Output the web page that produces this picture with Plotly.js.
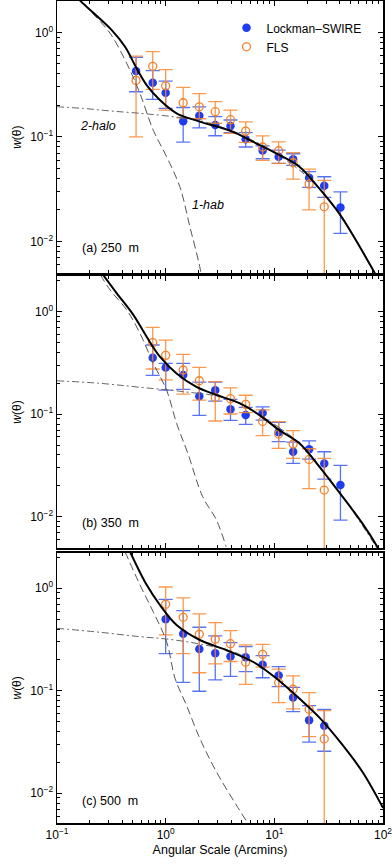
<!DOCTYPE html>
<html>
<head>
<meta charset="utf-8">
<script src="https://cdn.plot.ly/plotly-3.0.1.min.js"></script>
<style>
  html, body { margin: 0; padding: 0; background: #fff; }
  #plot { width: 392px; height: 864px; }
</style>
</head>
<body>
<div id="plot"></div>
<script>
// angular bins (arcmin)
const thetaA = [0.534, 0.76, 1.0, 1.45, 2.04, 2.86, 3.95, 5.45, 7.8, 10.96, 14.9, 20.9, 28.8, 40.6];
const thetaB = [0.76, 1.0, 1.45, 2.04, 2.86, 3.95, 5.45, 7.8, 10.96, 14.9, 20.9, 28.8, 40.6];
const thetaC = [1.0, 1.45, 2.04, 2.86, 3.95, 5.45, 7.8, 10.96, 14.9, 20.9, 28.8];

// (a) 250 - Lockman-SWIRE
const wA_lock   = [0.426, 0.33, 0.264, 0.141, 0.159, 0.13, 0.127, 0.095, 0.074, 0.0645, 0.061, 0.0406, 0.034, 0.0211];
const wA_lockHi = [0.576, 0.43, 0.342, 0.191, 0.194, 0.156, 0.145, 0.11, 0.082, 0.0748, 0.0689, 0.0464, 0.0415, 0.0298];
const wA_lockLo = [0.27, 0.228, 0.187, 0.089, 0.122, 0.1025, 0.11, 0.08, 0.0617, 0.0557, 0.0533, 0.0329, 0.0264, 0.0119];
// (a) 250 - FLS
const wA_fls   = [0.347, 0.473, 0.308, 0.212, 0.194, 0.174, 0.146, 0.1135, 0.08, 0.0736, 0.0565, 0.0353, 0.0214];
const wA_flsHi = [0.593, 0.653, 0.439, 0.297, 0.259, 0.217, 0.18, 0.139, 0.102, 0.0897, 0.0705, 0.0492, 0.0384];
const wA_flsLo = [0.1, 0.285, 0.18, 0.152, 0.149, 0.135, 0.108, 0.0886, 0.0596, 0.0557, 0.0394, 0.02, 0.001];

// (b) 350
const wB_lock   = [0.356, 0.286, 0.241, 0.150, 0.171, 0.112, 0.098, 0.1026, 0.0665, 0.043, 0.0454, 0.0331, 0.0204];
const wB_lockHi = [0.473, 0.313, 0.313, 0.206, 0.206, 0.1395, 0.1166, 0.118, 0.0832, 0.0535, 0.055, 0.043, 0.0317];
const wB_lockLo = [0.239, 0.172, 0.175, 0.0975, 0.134, 0.0871, 0.0796, 0.0877, 0.054, 0.0331, 0.0365, 0.0233, 0.00927];
const wB_fls   = [0.499, 0.375, 0.270, 0.212, 0.145, 0.1417, 0.1247, 0.0851, 0.064, 0.0512, 0.0362, 0.0182];
const wB_flsHi = [0.703, 0.529, 0.384, 0.286, 0.208, 0.181, 0.153, 0.11, 0.0845, 0.069, 0.046, 0.037];
const wB_flsLo = [0.276, 0.216, 0.157, 0.137, 0.0858, 0.1004, 0.1035, 0.0617, 0.0464, 0.037, 0.0188, 0.001];

// (c) 500
const wC_lock   = [0.50, 0.36, 0.256, 0.232, 0.216, 0.212, 0.179, 0.141, 0.086, 0.0515, 0.0457];
const wC_lockHi = [0.78, 0.605, 0.417, 0.343, 0.295, 0.27, 0.22, 0.172, 0.108, 0.0716, 0.066];
const wC_lockLo = [0.23, 0.121, 0.099, 0.1275, 0.138, 0.154, 0.134, 0.11, 0.0626, 0.0315, 0.0257];
const wC_fls   = [0.698, 0.521, 0.356, 0.318, 0.288, 0.19, 0.227, 0.12, 0.1035, 0.066, 0.0339];
const wC_flsHi = [1.03, 0.805, 0.562, 0.463, 0.386, 0.28, 0.284, 0.163, 0.1395, 0.096, 0.064];
const wC_flsLo = [0.351, 0.23, 0.150, 0.183, 0.193, 0.1157, 0.17, 0.0767, 0.0665, 0.0357, 0.001];

// halo model curves
const totA_x = [0.13, 0.164, 0.319, 0.423, 0.541, 0.668, 0.885, 1.26, 2.06, 4.16, 6.34, 10.4, 17, 25.9, 39.5, 56.2, 82.6, 100];
const totA_y = [2.6, 2.0, 1.05, 0.728, 0.452, 0.313, 0.225, 0.168, 0.14, 0.112, 0.0898, 0.0695, 0.0518, 0.0321, 0.0185, 0.0103, 0.00512, 0.0036];
const oneA_x = [0.15, 0.2, 0.308, 0.438, 0.58, 0.768, 1.02, 1.35, 1.67, 2.06, 2.3];
const oneA_y = [2.3, 1.63, 0.98, 0.505, 0.26, 0.116, 0.0645, 0.0333, 0.0138, 0.0057, 0.003];
const twoA_x = [0.1, 0.175, 0.308, 0.58, 1.17, 2.06, 4.16, 10.4, 25.9, 56.2, 100];
const twoA_y = [0.194, 0.187, 0.177, 0.168, 0.156, 0.143, 0.112, 0.0695, 0.0321, 0.0103, 0.0036];

const totB_x = [0.267, 0.355, 0.504, 0.668, 0.885, 1.26, 1.92, 2.93, 4.79, 7.3, 11.1, 17, 25.9, 42.4, 64.6, 88.6, 100];
const totB_y = [2.27, 1.51, 0.93, 0.57, 0.364, 0.25, 0.185, 0.154, 0.128, 0.098, 0.070, 0.052, 0.0308, 0.0157, 0.0086, 0.0051, 0.004];
const oneB_x = [0.25, 0.308, 0.438, 0.58, 0.768, 1.02, 1.26, 1.6, 2.19, 2.93, 3.6];
const oneB_y = [2.3, 1.63, 1.04, 0.615, 0.314, 0.172, 0.0815, 0.0415, 0.0157, 0.0093, 0.0051];
const twoB_x = [0.1, 0.25, 0.58, 1.45, 3.6, 7.3, 17, 42.4, 100];
const twoB_y = [0.212, 0.2, 0.183, 0.166, 0.143, 0.098, 0.052, 0.0157, 0.004];

const totC_x = [0.47, 0.668, 0.885, 1.26, 2.06, 3.6, 6.34, 10.4, 17, 25.9, 42.4, 64.6, 100];
const totC_y = [2.27, 1.08, 0.687, 0.438, 0.313, 0.25, 0.192, 0.1325, 0.084, 0.055, 0.0296, 0.0162, 0.0072];
const oneC_x = [0.423, 0.58, 0.768, 1.02, 1.22, 1.55, 2.06, 2.93, 4.46, 5.7];
const oneC_y = [2.27, 1.08, 0.59, 0.301, 0.132, 0.0727, 0.0344, 0.0162, 0.0077, 0.0051];
const twoC_x = [0.1, 0.25, 0.58, 1.02, 2.06, 4.16, 6.34, 10.4, 17, 25.9, 42.4, 64.6, 100];
const twoC_y = [0.407, 0.372, 0.337, 0.32, 0.286, 0.241, 0.192, 0.1325, 0.084, 0.055, 0.0296, 0.0162, 0.0072];

// tick labels
const xTickVals = [0.1, 1, 10, 100];
const xTickText = ['10<sup>\u22121</sup>', '10<sup>0</sup>', '10<sup>1</sup>', '10<sup>2</sup>'];
const yTickVals = [0.01, 0.1, 1];
const yTickText = ['10<sup>\u22122</sup>', '10<sup>\u22121</sup>', '10<sup>0</sup>'];

// minor tick positions 2..9 within each decade
function minorTicks(fromExp, toExp) {
  const out = [];
  for (let e = fromExp; e <= toExp; e++) {
    for (let m = 2; m <= 9; m++) out.push(m * Math.pow(10, e));
  }
  return out;
}

const BLUE = '#1e3cf2';
const BLUE_ERR = 'rgba(45,80,240,0.8)';
const ORANGE = '#f5822a';
const ORANGE_ERR = 'rgba(250,135,45,0.85)';
const FONT = 'Liberation Sans, Arial, Helvetica, sans-serif';

function errBars(y, hi, lo, color) {
  return {
    type: 'data', symmetric: false,
    array: hi.map((h, i) => h - y[i]),
    arrayminus: lo.map((l, i) => y[i] - l),
    color: color, thickness: 1.3, width: 7
  };
}

function panelTraces(n, theta, lk, lkHi, lkLo, fl, flHi, flLo, tx, ty, ox, oy, wx, wy, legend) {
  const xa = n === 1 ? 'x' : 'x' + n;
  const ya = n === 1 ? 'y' : 'y' + n;
  return [
    { x: theta, y: lk, xaxis: xa, yaxis: ya, type: 'scatter', mode: 'markers', name: 'Lockman\u2013SWIRE',
      showlegend: legend, marker: { color: BLUE, size: 8.5 },
      error_y: errBars(lk, lkHi, lkLo, BLUE_ERR) },
    { x: theta.slice(0, fl.length), y: fl, xaxis: xa, yaxis: ya, type: 'scatter', mode: 'markers', name: 'FLS',
      showlegend: legend, marker: { color: ORANGE, size: 8, symbol: 'circle-open', line: { width: 1.3 } },
      error_y: errBars(fl, flHi, flLo, ORANGE_ERR) },
    { x: wx, y: wy, xaxis: xa, yaxis: ya, type: 'scatter', mode: 'lines', showlegend: false,
      line: { color: '#666', width: 1, dash: '7px,3px,2px,3px', shape: 'spline' } },
    { x: ox, y: oy, xaxis: xa, yaxis: ya, type: 'scatter', mode: 'lines', showlegend: false,
      line: { color: '#555', width: 1, dash: '8px,4px', shape: 'spline' } },
    { x: tx, y: ty, xaxis: xa, yaxis: ya, type: 'scatter', mode: 'lines', showlegend: false,
      line: { color: '#000', width: 2, shape: 'spline' } }
  ];
}

const data = [].concat(
  panelTraces(1, thetaA, wA_lock, wA_lockHi, wA_lockLo, wA_fls, wA_flsHi, wA_flsLo, totA_x, totA_y, oneA_x, oneA_y, twoA_x, twoA_y, true),
  panelTraces(2, thetaB, wB_lock, wB_lockHi, wB_lockLo, wB_fls, wB_flsHi, wB_flsLo, totB_x, totB_y, oneB_x, oneB_y, twoB_x, twoB_y, false),
  panelTraces(3, thetaC, wC_lock, wC_lockHi, wC_lockLo, wC_fls, wC_flsHi, wC_flsLo, totC_x, totC_y, oneC_x, oneC_y, twoC_x, twoC_y, false)
);

const axisCommon = {
  type: 'log', showline: true, linecolor: '#000', linewidth: 1.5, mirror: 'ticks',
  ticks: 'inside', ticklen: 5, tickwidth: 1, tickcolor: '#000',
  showgrid: false, zeroline: false, ticklabeloverflow: 'allow',
  tickfont: { family: FONT, size: 12, color: '#000' }
};

function xAxis(anchor, labels) {
  return Object.assign({}, axisCommon, {
    range: [-1, 2], anchor: anchor,
    tickmode: 'array', tickvals: xTickVals, ticktext: xTickText,
    minor: { tickmode: 'array', tickvals: minorTicks(-1, 1), ticks: 'inside', ticklen: 3, tickcolor: '#000', showgrid: false },
    showticklabels: labels,
    title: labels ? { text: 'Angular Scale (Arcmins)', font: { family: FONT, size: 12.5, color: '#000' }, standoff: 4 } : { text: '' }
  });
}

function yAxis(anchor, domain, range) {
  return Object.assign({}, axisCommon, {
    range: range, domain: domain, anchor: anchor,
    tickmode: 'array', tickvals: yTickVals, ticktext: yTickText,
    minor: { tickmode: 'array', tickvals: minorTicks(-3, 0), ticks: 'inside', ticklen: 3, tickcolor: '#000', showgrid: false },
    title: { text: '<i>w</i>(\u03b8)', font: { family: FONT, size: 12, color: '#000' }, standoff: 6 }
  });
}

function label(xref, yref, x, y, text, italic) {
  return {
    xref: xref, yref: yref, x: x, y: y, text: italic ? '<i>' + text + '</i>' : text,
    showarrow: false, xanchor: italic ? 'center' : 'left', yanchor: 'middle',
    font: { family: FONT, size: 12.5, color: '#000' }
  };
}

const layout = {
  width: 392, height: 864,
  margin: { l: 57, r: 9, t: 1, b: 41 },
  paper_bgcolor: '#fff', plot_bgcolor: '#fff',
  font: { family: FONT, color: '#000' },
  showlegend: true,
  legend: {
    x: 0.52, y: 0.985, xanchor: 'left', yanchor: 'top',
    bgcolor: 'rgba(0,0,0,0)', itemwidth: 30, tracegroupgap: 0,
    font: { family: FONT, size: 12, color: '#000' }
  },
  xaxis: xAxis('y', false),
  xaxis2: xAxis('y2', false),
  xaxis3: xAxis('y3', true),
  yaxis: yAxis('x', [0.6687, 1], [-2.306, 0.30]),
  yaxis2: yAxis('x2', [0.3342, 0.6658], [-2.308, 0.351]),
  yaxis3: yAxis('x3', [0, 0.3288], [-2.29, 0.347]),
  annotations: [
    label('x', 'y', -0.62, -0.897, '2-halo', true),
    label('x', 'y', 0.387, -1.653, '1-hab', true),
    label('x', 'y', -0.79, -2.064, '(a) 250\u00a0\u00a0m', false),
    label('x2', 'y2', -0.79, -2.064, '(b) 350\u00a0\u00a0m', false),
    label('x3', 'y3', -0.79, -2.075, '(c) 500\u00a0\u00a0m', false)
  ]
};

Plotly.newPlot('plot', data, layout, { staticPlot: true, displayModeBar: false });
</script>
</body>
</html>
